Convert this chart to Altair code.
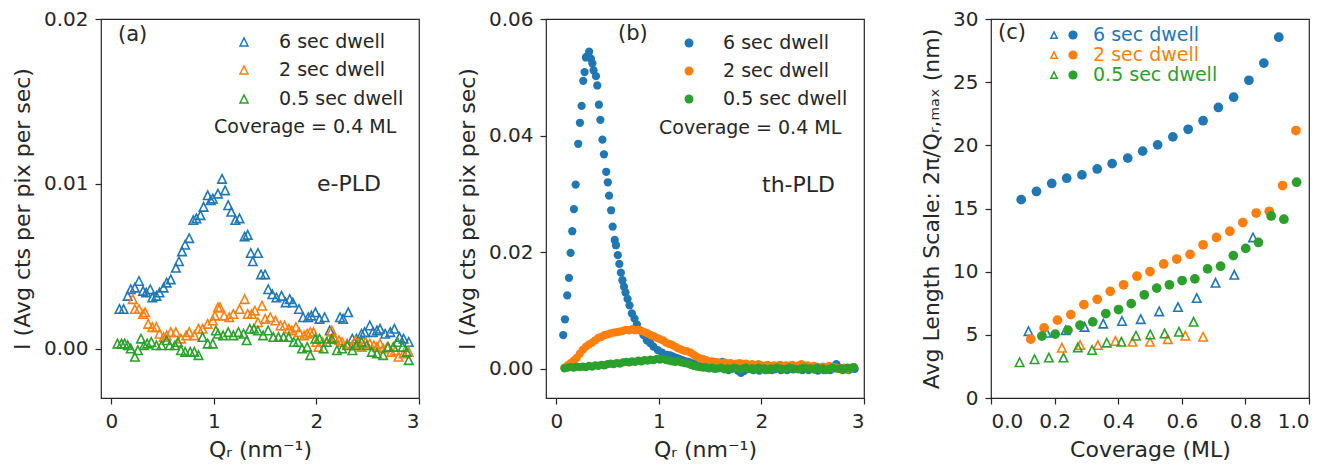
import altair as alt
import pandas as pd

FONT = "DejaVu Sans"
TXT = "#262626"
SERIES = ["6 sec dwell", "2 sec dwell", "0.5 sec dwell"]
COLORS = ["#1f77b4", "#ff7f0e", "#2ca02c"]
TRI = "M0,-1L-1,1L1,1Z"

# ---------------- panel (a): e-PLD, triangles ----------------
QA_6 = [0.08, 0.12, 0.16, 0.19, 0.23, 0.27, 0.31, 0.34, 0.38, 0.40,
        0.44, 0.47, 0.51, 0.54, 0.58, 0.63, 0.66, 0.69, 0.72, 0.76,
        0.80, 0.83, 0.87, 0.90, 0.94, 0.97, 0.99, 1.04, 1.08, 1.11,
        1.14, 1.17, 1.21, 1.25, 1.30, 1.33, 1.36, 1.38, 1.43, 1.46,
        1.50, 1.53, 1.57, 1.61, 1.66, 1.70, 1.74, 1.77, 1.83, 1.87,
        1.92, 1.95, 1.99, 2.03, 2.08, 2.13, 2.17, 2.23, 2.26, 2.31,
        2.35, 2.39, 2.44, 2.47, 2.52, 2.55, 2.59, 2.62, 2.67, 2.72,
        2.76, 2.81, 2.85, 2.90]
IA_6 = [0.0024, 0.0024, 0.0032, 0.0036, 0.0037, 0.0041, 0.0035, 0.0034, 0.0036, 0.0031,
        0.0032, 0.0034, 0.0037, 0.0040, 0.0042, 0.0049, 0.0053, 0.0059, 0.0063, 0.0067,
        0.0078, 0.0079, 0.0081, 0.0086, 0.0093, 0.0090, 0.0091, 0.0094, 0.0103, 0.0096,
        0.0087, 0.0083, 0.0078, 0.0079, 0.0068, 0.0069, 0.0058, 0.0053, 0.0058, 0.0045,
        0.0045, 0.0036, 0.0033, 0.0031, 0.0032, 0.0028, 0.0030, 0.0028, 0.0024, 0.0019,
        0.0019, 0.0020, 0.0022, 0.0018, 0.0019, 0.0011, 0.0007, 0.0019, 0.0018, 0.0022,
        0.0006, 0.0006, 0.0009, 0.0010, 0.0014, 0.0010, 0.0011, 0.0012, 0.0009, 0.0010,
        0.0012, 0.0007, 0.0006, 0.0004]

QA_2 = [0.21, 0.23, 0.27, 0.31, 0.33, 0.36, 0.40, 0.44, 0.47, 0.51,
        0.54, 0.58, 0.63, 0.68, 0.73, 0.76, 0.81, 0.85, 0.89, 0.94,
        0.99, 1.01, 1.04, 1.06, 1.10, 1.15, 1.19, 1.25, 1.30, 1.33,
        1.37, 1.40, 1.43, 1.47, 1.50, 1.55, 1.60, 1.65, 1.69, 1.73,
        1.76, 1.80, 1.83, 1.88, 1.91, 1.94, 1.97, 2.00, 2.02, 2.06,
        2.12, 2.15, 2.18, 2.22, 2.25, 2.30, 2.35, 2.38, 2.41, 2.44,
        2.48, 2.52, 2.56, 2.59, 2.62, 2.65, 2.69, 2.73, 2.77, 2.80,
        2.85, 2.90]
IA_2 = [0.0030, 0.0024, 0.0024, 0.0021, 0.0022, 0.0015, 0.0013, 0.0013, 0.0009, 0.0007,
        0.0008, 0.0010, 0.0010, 0.0006, 0.0008, 0.0010, 0.0008, 0.0012, 0.0012, 0.0015,
        0.0017, 0.0020, 0.0025, 0.0025, 0.0020, 0.0019, 0.0021, 0.0024, 0.0030, 0.0021,
        0.0021, 0.0023, 0.0016, 0.0026, 0.0018, 0.0019, 0.0017, 0.0014, 0.0014, 0.0012,
        0.0011, 0.0013, 0.0010, 0.0008, 0.0009, 0.0010, 0.0010, 0.0004, 0.0001, 0.0004,
        0.0006, 0.0011, 0.0006, 0.0005, 0.0004, 0.0003, 0.0002, 0.0005, 0.0003, 0.0001,
        0.0004, 0.0003, 0.0002, 0.0001, 0.0003, 0.0000, 0.0001, -0.0002, -0.0001, -0.0005,
        -0.0003, -0.0002]

QA_05 = [0.06, 0.10, 0.13, 0.16, 0.19, 0.23, 0.26, 0.29, 0.32, 0.35,
         0.39, 0.44, 0.49, 0.54, 0.57, 0.62, 0.65, 0.68, 0.72, 0.77,
         0.81, 0.85, 0.89, 0.94, 0.99, 1.02, 1.04, 1.09, 1.14, 1.19,
         1.24, 1.29, 1.32, 1.35, 1.39, 1.43, 1.48, 1.53, 1.58, 1.63,
         1.68, 1.73, 1.78, 1.82, 1.86, 1.91, 1.94, 1.99, 2.03, 2.07,
         2.10, 2.15, 2.20, 2.25, 2.30, 2.35, 2.39, 2.44, 2.49, 2.54,
         2.59, 2.65, 2.70, 2.75, 2.79, 2.84, 2.88, 2.90]
IA_05 = [0.0003, 0.0003, 0.0003, 0.0002, 0.0000, -0.0005, -0.0001, 0.0006, 0.0002, 0.0003,
         0.0004, 0.0002, 0.0002, 0.0005, 0.0002, 0.0002, 0.0004, -0.0001, -0.0002, -0.0002,
         -0.0002, -0.0004, 0.0007, 0.0003, 0.0003, 0.0011, 0.0009, 0.0008, 0.0010, 0.0008,
         0.0010, 0.0009, 0.0005, 0.0012, 0.0012, 0.0011, 0.0008, 0.0011, 0.0007, 0.0007,
         0.0007, 0.0007, 0.0004, 0.0004, 0.0000, 0.0001, -0.0004, 0.0006, 0.0006, 0.0000,
         0.0004, 0.0006, -0.0001, 0.0000, 0.0002, -0.0001, 0.0002, 0.0004, 0.0002, -0.0002,
         -0.0003, -0.0004, 0.0001, 0.0001, 0.0004, 0.0001, -0.0002, -0.0007]

# ---------------- panel (b): th-PLD, filled dots ----------------
QB_6 = [0.068, 0.085, 0.107, 0.124, 0.140, 0.156, 0.172, 0.189, 0.214, 0.231,
        0.247, 0.263, 0.276, 0.289, 0.300, 0.321, 0.338, 0.352, 0.364, 0.387,
        0.400, 0.416, 0.430, 0.450, 0.465, 0.487, 0.503, 0.515, 0.535, 0.550,
        0.570, 0.582, 0.600, 0.615, 0.630, 0.645, 0.660, 0.675, 0.695, 0.714,
        0.737, 0.763, 0.786, 0.818, 0.850, 0.883, 0.916, 0.948, 0.990, 1.030,
        1.080, 1.11, 1.14, 1.17, 1.20, 1.23, 1.26, 1.29, 1.32, 1.35,
        1.38, 1.41, 1.44, 1.47, 1.50, 1.53, 1.56, 1.59, 1.62, 1.65,
        1.68, 1.71, 1.74, 1.77, 1.80, 1.83, 1.86, 1.89, 1.92, 1.95,
        1.98, 2.01, 2.04, 2.07, 2.10, 2.13, 2.16, 2.19, 2.22, 2.25,
        2.28, 2.31, 2.34, 2.37, 2.40, 2.43, 2.46, 2.49, 2.52, 2.55,
        2.58, 2.61, 2.64, 2.67, 2.70, 2.73, 2.76, 2.79, 2.82, 2.85,
        2.88, 2.91]
IB_6 = [0.0058, 0.0085, 0.0126, 0.0156, 0.0199, 0.0236, 0.0274, 0.0316, 0.0386, 0.0422,
        0.0451, 0.0494, 0.0509, 0.0534, 0.0536, 0.0544, 0.0532, 0.0524, 0.0512, 0.0502,
        0.0486, 0.0453, 0.0427, 0.0393, 0.0368, 0.0338, 0.0320, 0.0297, 0.0272, 0.0244,
        0.0221, 0.0212, 0.0195, 0.0180, 0.0165, 0.0152, 0.0141, 0.0131, 0.0120, 0.0109,
        0.0095, 0.0086, 0.0076, 0.0066, 0.0058, 0.0049, 0.0044, 0.0038, 0.0032, 0.0028,
        0.0024, 0.0023, 0.0021, 0.0019, 0.0017, 0.0015, 0.0013, 0.0012, 0.0010, 0.0008,
        0.0006, 0.0004, 0.0003, 0.0002, 0.0003, 0.0001, 0.0004, 0.0002, 0.0012, 0.0001,
        -0.0002, 0.0000, 0.0002, -0.0003, -0.0007, -0.0004, 0.0000, 0.0002, -0.0002, 0.0001,
        -0.0003, 0.0000, -0.0002, 0.0001, -0.0002, -0.0001, 0.0002, -0.0002, 0.0000, -0.0002,
        0.0001, -0.0001, 0.0003, 0.0000, -0.0002, 0.0001, -0.0002, 0.0002, -0.0001, -0.0003,
        0.0000, -0.0002, 0.0002, -0.0002, 0.0001, 0.0008, 0.0002, -0.0002, 0.0001, -0.0002,
        0.0002, 0.0000]

QB = [0.08, 0.11, 0.14, 0.17, 0.20, 0.23, 0.26, 0.29, 0.32, 0.35,
      0.38, 0.41, 0.44, 0.47, 0.50, 0.53, 0.56, 0.59, 0.62, 0.65,
      0.68, 0.71, 0.74, 0.77, 0.80, 0.83, 0.86, 0.89, 0.92, 0.95,
      0.98, 1.01, 1.04, 1.07, 1.10, 1.13, 1.16, 1.19, 1.22, 1.25,
      1.28, 1.31, 1.34, 1.37, 1.40, 1.43, 1.46, 1.49, 1.52, 1.55,
      1.58, 1.61, 1.64, 1.67, 1.70, 1.73, 1.76, 1.79, 1.82, 1.85,
      1.88, 1.91, 1.94, 1.97, 2.00, 2.03, 2.06, 2.09, 2.12, 2.15,
      2.18, 2.21, 2.24, 2.27, 2.30, 2.33, 2.36, 2.39, 2.42, 2.45,
      2.48, 2.51, 2.54, 2.57, 2.60, 2.63, 2.66, 2.69, 2.72, 2.75,
      2.78, 2.81, 2.84, 2.87, 2.90]
IB_2 = [0.0002, 0.0006, 0.0010, 0.0014, 0.0019, 0.0026, 0.0033, 0.0038, 0.0042, 0.0045,
        0.0049, 0.0053, 0.0055, 0.0058, 0.0059, 0.0061, 0.0062, 0.0063, 0.0064, 0.0065,
        0.0067, 0.0066, 0.0068, 0.0066, 0.0067, 0.0065, 0.0063, 0.0061, 0.0058, 0.0056,
        0.0053, 0.0051, 0.0049, 0.0045, 0.0043, 0.0041, 0.0038, 0.0035, 0.0033, 0.0031,
        0.0030, 0.0028, 0.0024, 0.0021, 0.0018, 0.0017, 0.0015, 0.0013, 0.0013, 0.0012,
        0.0011, 0.0010, 0.0011, 0.0009, 0.0010, 0.0008, 0.0009, 0.0010, 0.0008, 0.0009,
        0.0007, 0.0008, 0.0006, 0.0008, 0.0006, 0.0005, 0.0007, 0.0004, 0.0006, 0.0005,
        0.0007, 0.0004, 0.0006, 0.0005, 0.0007, 0.0004, 0.0006, 0.0008, 0.0005, 0.0006,
        0.0003, 0.0005, 0.0004, 0.0002, 0.0004, 0.0003, 0.0005, 0.0002, 0.0003, 0.0001,
        0.0000, 0.0002, -0.0001, 0.0001, 0.0003]
IB_05 = [0.0001, 0.0002, 0.0003, 0.0002, 0.0004, 0.0003, 0.0004, 0.0003, 0.0005, 0.0004,
         0.0006, 0.0005, 0.0007, 0.0006, 0.0008, 0.0009, 0.0008, 0.0010, 0.0009, 0.0011,
         0.0012, 0.0011, 0.0013, 0.0012, 0.0014, 0.0013, 0.0015, 0.0014, 0.0016, 0.0015,
         0.0017, 0.0016, 0.0017, 0.0015, 0.0014, 0.0013, 0.0012, 0.0013, 0.0011, 0.0010,
         0.0009, 0.0007, 0.0005, 0.0004, 0.0003, 0.0002, 0.0003, 0.0001, 0.0002, 0.0000,
         0.0001, 0.0002, -0.0001, 0.0001, 0.0000, 0.0002, 0.0001, -0.0001, 0.0001, 0.0002,
         0.0000, 0.0001, -0.0001, 0.0002, 0.0000, 0.0001, -0.0002, 0.0001, 0.0000, 0.0002,
         0.0001, -0.0001, 0.0000, 0.0002, 0.0001, 0.0000, -0.0001, 0.0001, 0.0002, 0.0000,
         0.0001, -0.0001, 0.0002, 0.0000, 0.0001, -0.0002, 0.0000, 0.0002, 0.0001, 0.0000,
         0.0001, -0.0001, 0.0002, 0.0000, 0.0003]

# ---------------- panel (c): length scale vs coverage ----------------
CD_6 = [0.095, 0.143, 0.191, 0.238, 0.286, 0.334, 0.381, 0.430, 0.477, 0.524,
        0.572, 0.620, 0.667, 0.715, 0.763, 0.811, 0.858, 0.905]
LD_6 = [15.7, 16.35, 16.98, 17.4, 17.66, 18.13, 18.55, 18.99, 19.54, 20.04,
        20.67, 21.27, 21.95, 23.0, 23.81, 25.15, 26.51, 28.56]
CD_2 = [0.125, 0.167, 0.209, 0.251, 0.292, 0.334, 0.375, 0.417, 0.459, 0.500,
        0.543, 0.584, 0.626, 0.667, 0.709, 0.751, 0.792, 0.834, 0.875, 0.917, 0.959]
LD_2 = [4.66, 5.55, 6.16, 6.6, 7.39, 7.81, 8.44, 8.96, 9.64, 10.01,
        10.61, 11.0, 11.37, 12.13, 12.71, 13.2, 13.89, 14.64, 14.78, 16.82, 21.17]
CD_05 = [0.160, 0.202, 0.242, 0.280, 0.320, 0.361, 0.401, 0.441, 0.482, 0.521,
         0.561, 0.601, 0.641, 0.681, 0.722, 0.762, 0.801, 0.841, 0.881, 0.921, 0.961]
LD_05 = [4.9, 5.06, 5.37, 5.76, 6.03, 6.68, 7.0, 7.47, 8.17, 8.7,
         8.96, 9.3, 9.43, 10.22, 10.43, 11.27, 11.84, 12.31, 14.41, 14.15, 17.08]

CT_6 = [0.118, 0.175, 0.235, 0.294, 0.353, 0.412, 0.471, 0.529, 0.588, 0.647,
        0.706, 0.765, 0.824]
LT_6 = [5.29, 5.16, 5.37, 5.63, 5.89, 6.1, 6.24, 6.86, 7.2, 7.91,
        9.12, 9.75, 12.71]
CT_2 = [0.223, 0.280, 0.336, 0.391, 0.445, 0.500, 0.556, 0.611, 0.667]
LT_2 = [3.98, 4.19, 4.19, 4.51, 4.45, 4.45, 4.66, 4.93, 4.85]
CT_05 = [0.090, 0.137, 0.182, 0.228, 0.273, 0.318, 0.364, 0.410, 0.456, 0.501,
         0.546, 0.591, 0.637]
LT_05 = [2.83, 3.07, 3.2, 3.2, 4.01, 3.8, 4.38, 4.45, 4.93, 5.03,
         5.11, 5.24, 6.03]


def frame(xs, ys, names, xk="x", yk="y"):
    parts = []
    for x, y, n in zip(xs, ys, names):
        m = min(len(x), len(y))
        parts.append(pd.DataFrame({xk: x[:m], yk: y[:m], "s": n}))
    return pd.concat(parts, ignore_index=True)


df_a = frame([QA_6, QA_2, QA_05], [IA_6, IA_2, IA_05], SERIES)
df_b = frame([QB_6, QB, QB], [IB_6, IB_2, IB_05], SERIES)
df_cd = frame([CD_6, CD_2, CD_05], [LD_6, LD_2, LD_05], SERIES)
df_ct = frame([CT_6, CT_2, CT_05], [LT_6, LT_2, LT_05], SERIES)

COLOR = alt.Color("s:N", scale=alt.Scale(domain=SERIES, range=COLORS), legend=None)
W, H = 318, 379


def txt(text, x, y, size=19, color=TXT):
    return alt.Chart(pd.DataFrame({"t": [text]})).mark_text(
        align="left", baseline="middle", font=FONT, fontSize=size, color=color
    ).encode(x=alt.value(x), y=alt.value(y), text="t:N")


def mk(x, y, color, shape, filled, size):
    return alt.Chart(pd.DataFrame({"k": [0]})).mark_point(
        shape=shape, filled=filled, color=color, size=size, opacity=1, strokeWidth=1.5
    ).encode(x=alt.value(x), y=alt.value(y))


QAXIS = alt.Axis(values=[0, 1, 2, 3], format="d", title="Qᵣ (nm⁻¹)")
QSCALE = alt.Scale(domain=[-0.1, 3], nice=False, zero=False)
YTITLE = "I (Avg cts per pix per sec)"

# panel (a)
pa_data = alt.Chart(df_a).mark_point(
    shape=TRI, filled=False, size=72, strokeWidth=1.6, opacity=1
).encode(
    x=alt.X("x:Q", scale=QSCALE, axis=QAXIS),
    y=alt.Y("y:Q", scale=alt.Scale(domain=[-0.003, 0.02], nice=False, zero=False),
            axis=alt.Axis(values=[0, 0.01, 0.02], format=".2f", title=YTITLE)),
    color=COLOR,
)
pa_ann = [txt("(a)", 17, 16, 21)]
for k, (n, c) in enumerate(zip(SERIES, COLORS)):
    yy = [23, 51, 80][k]
    pa_ann.append(mk(143, yy, c, TRI, False, 64))
    pa_ann.append(txt(n, 178, yy))
pa_ann.append(txt("Coverage = 0.4 ML", 113, 108))
pa_ann.append(txt("e-PLD", 216, 165, 22))
panel_a = alt.layer(pa_data, *pa_ann).properties(width=W, height=H)

# panel (b)
pb_data = alt.Chart(df_b).mark_point(
    shape="circle", filled=True, size=68, opacity=1, strokeWidth=0
).encode(
    x=alt.X("x:Q", scale=QSCALE, axis=QAXIS),
    y=alt.Y("y:Q", scale=alt.Scale(domain=[-0.005, 0.06], nice=False, zero=False),
            axis=alt.Axis(values=[0, 0.02, 0.04, 0.06], format=".2f", title=YTITLE)),
    color=COLOR,
)
pb_ann = [txt("(b)", 72, 15, 21)]
for k, (n, c) in enumerate(zip(SERIES, COLORS)):
    yy = [24, 52, 80][k]
    pb_ann.append(mk(143, yy, c, "circle", True, 80))
    pb_ann.append(txt(n, 177, yy))
pb_ann.append(txt("Coverage = 0.4 ML", 113, 109))
pb_ann.append(txt("th-PLD", 216, 166, 22))
panel_b = alt.layer(pb_data, *pb_ann).properties(width=W, height=H)

# panel (c)
CX = alt.X("x:Q", scale=alt.Scale(domain=[0, 1], nice=False, zero=False),
           axis=alt.Axis(values=[0, 0.2, 0.4, 0.6, 0.8, 1.0], format=".1f", title="Coverage (ML)"))
CY = alt.Y("y:Q", scale=alt.Scale(domain=[0, 30], nice=False, zero=False),
           axis=alt.Axis(values=[0, 5, 10, 15, 20, 25, 30], format="d",
                         title="Avg Length Scale: 2π/Qᵣ,ₘₐₓ (nm)"))
pc_tri = alt.Chart(df_ct).mark_point(
    shape=TRI, filled=False, size=72, strokeWidth=1.6, opacity=1
).encode(x=CX, y=CY, color=COLOR)
pc_dot = alt.Chart(df_cd).mark_point(
    shape="circle", filled=True, size=95, opacity=1, strokeWidth=0
).encode(x=CX, y=CY, color=COLOR)
pc_ann = [txt("(c)", 7, 14, 21)]
for k, (n, c) in enumerate(zip(SERIES, COLORS)):
    yy = [16, 36, 56][k]
    pc_ann.append(mk(63, yy, c, TRI, False, 40))
    pc_ann.append(mk(82, yy, c, "circle", True, 85))
    pc_ann.append(txt(n, 102, yy, 19, c))
panel_c = alt.layer(pc_tri, pc_dot, *pc_ann).properties(width=W, height=H)

chart = alt.hconcat(panel_a, panel_b, panel_c, spacing=127, bounds="flush").configure(
    padding={"left": 2, "top": 0, "right": 4, "bottom": 0},
    background="white",
).configure_view(
    stroke=TXT, strokeWidth=1.2
).configure_axis(
    labelFont=FONT, titleFont=FONT, labelFontSize=20, titleFontSize=22,
    titleFontWeight="normal", labelColor=TXT, titleColor=TXT,
    tickColor=TXT, tickSize=6, tickWidth=1.2, domain=False, grid=False,
).configure_axisX(
    labelPadding=7, titlePadding=8
).configure_axisY(
    labelPadding=7, titlePadding=9
)

chart.save("out.html", embed_options={"renderer": "svg", "actions": False})
